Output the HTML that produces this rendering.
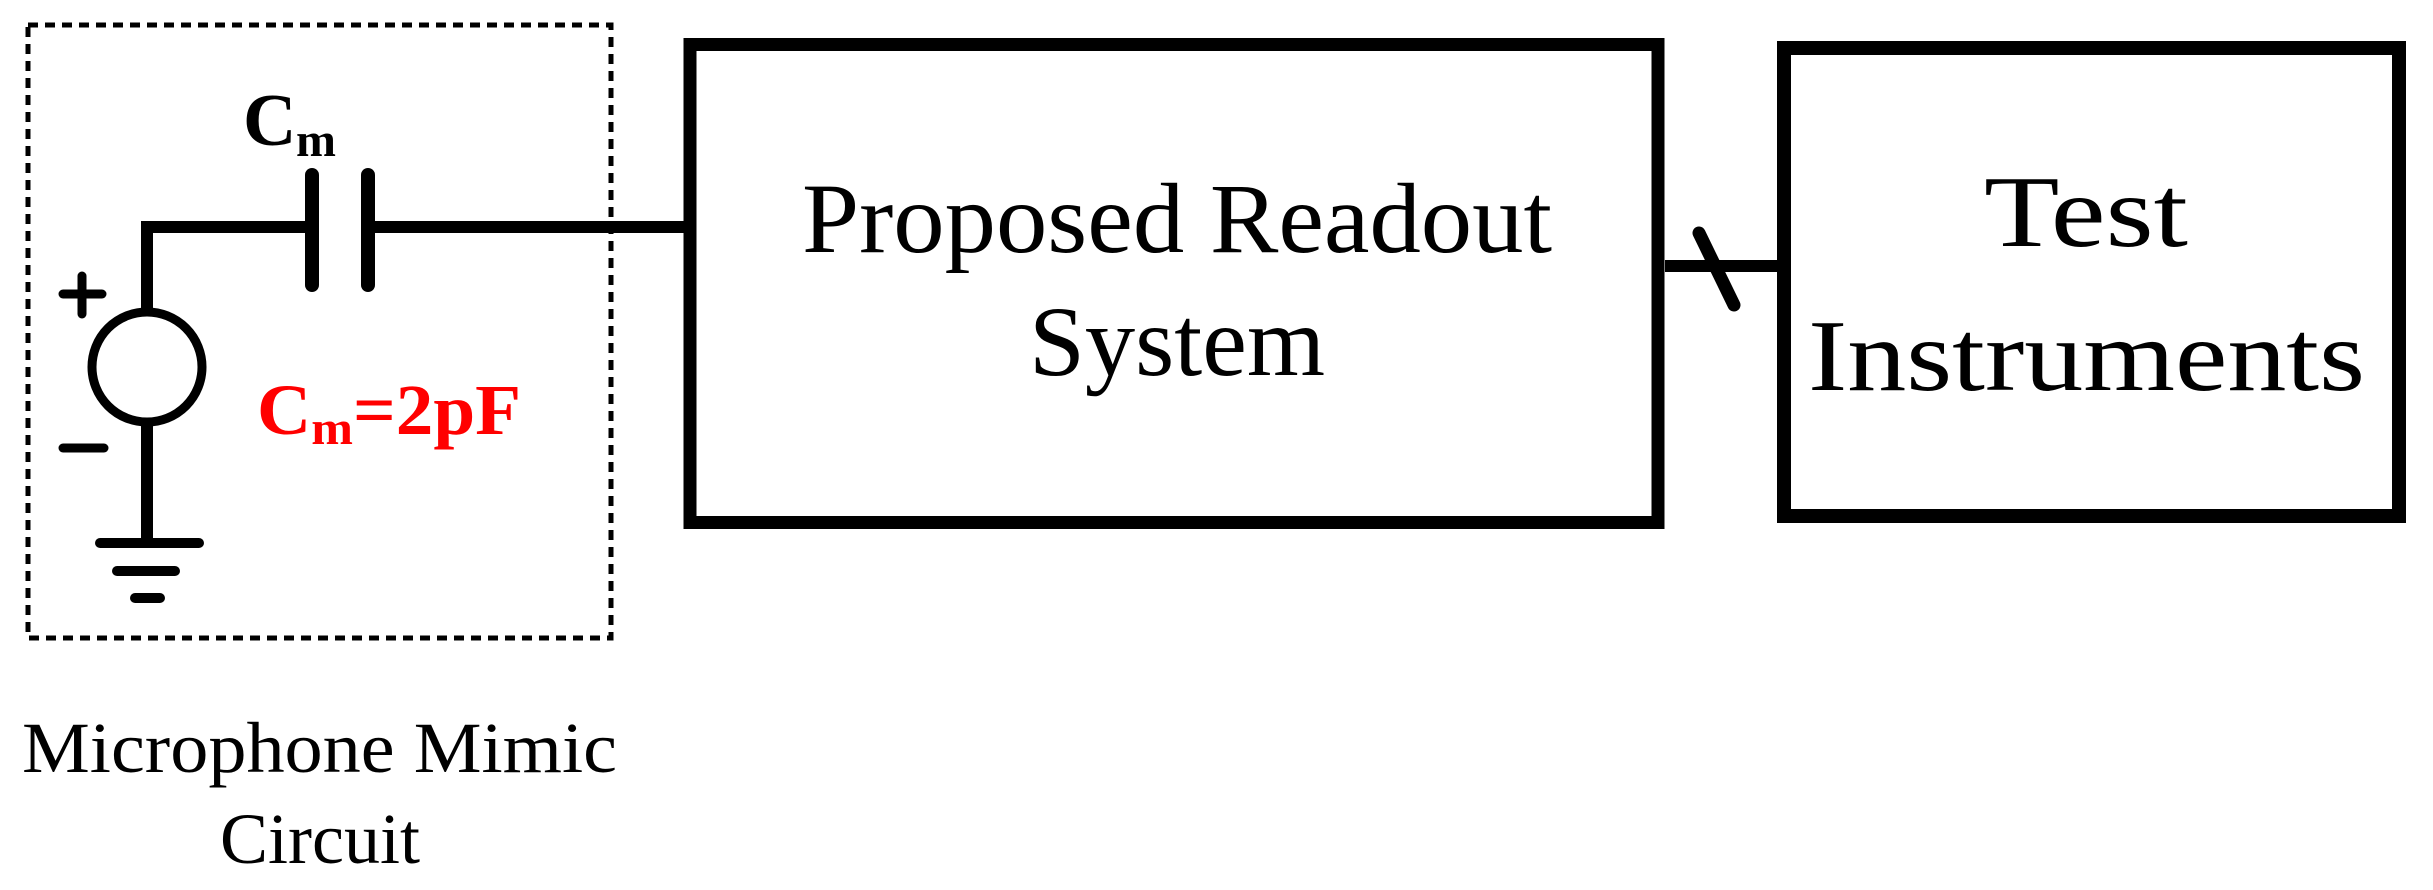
<!DOCTYPE html>
<html><head><meta charset="utf-8"><style>html,body{margin:0;padding:0;background:#fff}svg{display:block}
.t{font-family:"Liberation Serif","Times New Roman",serif}</style></head>
<body>
<svg width="2433" height="890" viewBox="0 0 2433 890" xmlns="http://www.w3.org/2000/svg">
<rect x="0" y="0" width="2433" height="890" fill="#fff"/>
<rect x="28" y="25" width="583" height="613" fill="none" stroke="#000" stroke-width="5" stroke-dasharray="10,7"/>
<g stroke="#000" stroke-width="12" fill="none" stroke-linecap="round">
<polyline points="147,311 147,227 312,227" stroke-linecap="butt"/>
<line x1="368" y1="227" x2="690" y2="227" stroke-linecap="butt"/>
<line x1="312" y1="175" x2="312" y2="285" stroke-width="14"/>
<line x1="368" y1="175" x2="368" y2="285" stroke-width="14"/>
<line x1="147" y1="423" x2="147" y2="543" stroke-linecap="butt"/>
<line x1="100" y1="543" x2="199" y2="543" stroke-width="10"/>
<line x1="117" y1="571" x2="175" y2="571" stroke-width="10"/>
<line x1="135" y1="598" x2="160" y2="598" stroke-width="10"/>
<line x1="63" y1="294" x2="102" y2="294" stroke-width="9"/>
<line x1="82" y1="276" x2="82" y2="314" stroke-width="9"/>
<line x1="63" y1="448" x2="104" y2="448" stroke-width="9"/>
<line x1="1665" y1="266" x2="1784" y2="266" stroke-linecap="butt"/>
<line x1="1699" y1="233" x2="1734" y2="305" stroke-width="13"/>
</g>
<circle cx="147" cy="367" r="55" fill="none" stroke="#000" stroke-width="9"/>
<rect x="690" y="44.5" width="968" height="478" fill="none" stroke="#000" stroke-width="13"/>
<rect x="1784" y="48" width="615" height="468" fill="none" stroke="#000" stroke-width="14"/>
<g class="t">
<text x="243" y="145" font-size="74" font-weight="bold">C</text>
<text x="296" y="156" font-size="48" font-weight="bold">m</text>
<text x="257" y="434" font-size="72" font-weight="bold" fill="#ff0000" textLength="264" lengthAdjust="spacingAndGlyphs">C<tspan font-size="48" dy="10">m</tspan><tspan dy="-10">=2pF</tspan></text>
<text x="22" y="772" font-size="72" textLength="595" lengthAdjust="spacingAndGlyphs">Microphone Mimic</text>
<text x="320" y="863" font-size="72" text-anchor="middle">Circuit</text>
<text x="802" y="252" font-size="100" textLength="750" lengthAdjust="spacingAndGlyphs">Proposed Readout</text>
<text x="1029" y="375" font-size="100" textLength="296" lengthAdjust="spacingAndGlyphs">System</text>
<text x="1984" y="246" font-size="102" textLength="204" lengthAdjust="spacingAndGlyphs">Test</text>
<text x="1808" y="390" font-size="102" textLength="557" lengthAdjust="spacingAndGlyphs">Instruments</text>
</g>
</svg>
</body></html>
